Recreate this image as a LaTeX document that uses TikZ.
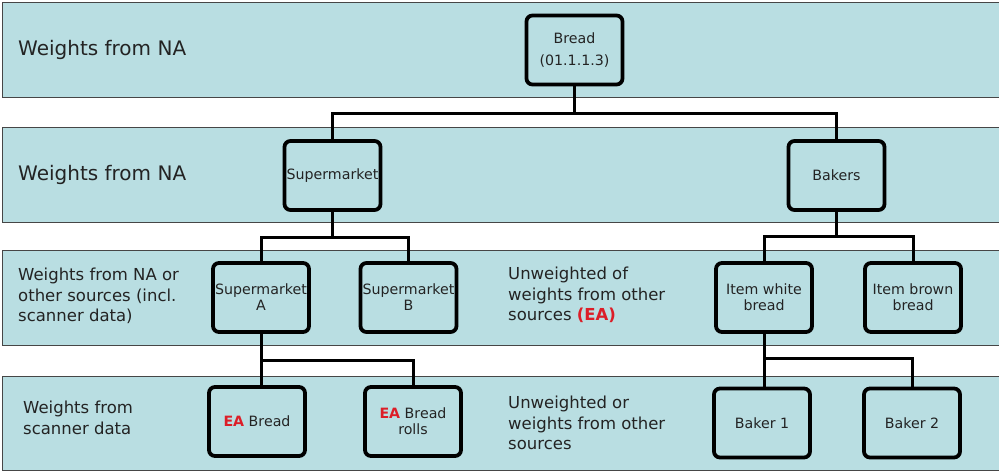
\documentclass[tikz,border=0pt]{standalone}
\usepackage{fontspec}
\setmainfont{DejaVu Sans}
\usetikzlibrary{calc}
\definecolor{bandfill}{RGB}{185,222,226}
\definecolor{bandline}{RGB}{70,70,70}
\definecolor{txt}{RGB}{35,35,35}
\definecolor{eared}{RGB}{220,30,40}
\tikzset{
  band/.style={draw=bandline, line width=1pt, fill=bandfill},
  box/.style={draw=black, line width=3.8pt, rounded corners=6pt, fill=bandfill,
    minimum width=96pt, minimum height=69pt, inner sep=0pt, align=center,
    text=txt, font=\fontsize{14.2}{16}\selectfont},
  biglabel/.style={anchor=west, inner sep=0pt, text=txt, font=\fontsize{20}{23}\selectfont},
  smalllabel/.style={anchor=west, inner sep=0pt, align=left, text=txt, font=\fontsize{16.5}{20.5}\selectfont},
  link/.style={draw=black, line width=3pt, line join=miter}
}
\newcommand{\ea}{\textcolor{eared}{\textbf{EA}}}
\begin{document}
\begin{tikzpicture}[x=1pt,y=-1pt]
\useasboundingbox (0,0) rectangle (999,473);
\fill[white] (0,0) rectangle (999,473);
% bands
\path[band] (2,3) rectangle (1010,98);
\path[band] (2,128) rectangle (1010,223);
\path[band] (2,251) rectangle (1010,345);
\path[band] (2,376) rectangle (1010,470);
% labels
\node[biglabel] (l1) at (18,50) {Weights from NA};
\node[biglabel] (l2) at (18,175) {Weights from NA};
\node[smalllabel] (l3) at (18,296) {Weights from NA or\\other sources (incl.\\scanner data)};
\node[smalllabel] (l4) at (23,418) {Weights from\\scanner data};
\node[smalllabel] (m3) at (508,295) {Unweighted of\\weights from other\\sources \textcolor{eared}{\textbf{(EA)}}};
\node[smalllabel] (m4) at (508,423) {Unweighted or\\weights from other\\sources};
% nodes
\node[box] (bread) at (574.5,50) {Bread\\[6pt](01.1.1.3)};
\node[box] (sup) at (332.5,175.5) {Supermarket};
\node[box] (bak) at (836.5,175.5) {Bakers};
\node[box] (supA) at (261,297.5) {Supermarket\\A};
\node[box] (supB) at (408.5,297.5) {Supermarket\\B};
\node[box] (iwb) at (764,297.5) {Item white\\bread};
\node[box] (ibb) at (913,297.5) {Item brown\\bread};
\node[box] (eab) at (257,421.5) {\ea{} Bread};
\node[box] (eabr) at (413,421.5) {\ea{} Bread\\rolls};
\node[box] (b1) at (762,423) {Baker 1};
\node[box] (b2) at (912,423) {Baker 2};
% connectors
\draw[link] (bread.south) -- ++(0,27) -| (sup.north);
\draw[link] (bread.south) -- ++(0,27) -| (bak.north);
\draw[link] (sup.south) -- ++(0,26) -| (supA.north);
\draw[link] (sup.south) -- ++(0,26) -| (supB.north);
\draw[link] (bak.south) -- ++(0,25) -| (iwb.north);
\draw[link] (bak.south) -- ++(0,25) -| (ibb.north);
\draw[link] (supA.south) -- (supA.south |- eab.north);
\draw[link] (supA.south) -- ++(0,27) -| (eabr.north);
\draw[link] (iwb.south) -- (iwb.south |- b1.north);
\draw[link] (iwb.south) -- ++(0,25) -| (b2.north);
\end{tikzpicture}
\end{document}
